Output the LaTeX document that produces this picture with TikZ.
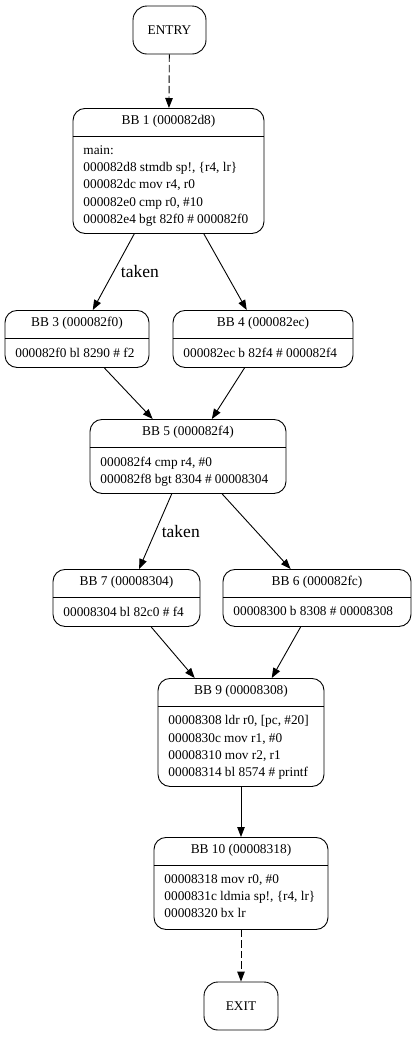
\documentclass[tikz,border=0pt]{standalone}
\usepackage{fontspec}
\setmainfont{Liberation Serif}
\usetikzlibrary{arrows.meta}
\tikzset{
 blk/.style={draw, line width=0.9pt, rounded corners=12pt, inner sep=0pt},
 hdr/.style={font=\fontsize{13.4}{16}\selectfont, inner sep=0pt},
 code/.style={font=\fontsize{13.3}{17.2}\selectfont, align=left, inner sep=0pt, anchor=north west},
 edgeln/.style={line width=0.9pt, -{Triangle[length=10pt,width=7.5pt]}},
 dedgeln/.style={edgeln, dash pattern=on 7.5pt off 3pt},
 lbl/.style={font=\fontsize{17.5}{20}\selectfont, inner sep=0pt, anchor=west},
}
\newcommand\mkblock[7]{%
 \node[blk, anchor=north, minimum width=#4pt, minimum height=#5pt] (#1) at (#2,#3) {};
 \draw[line width=0.9pt] ([yshift=-28pt]#1.north west) -- ([yshift=-28pt]#1.north east);
 \node[hdr] (#1h) at ([yshift=-13.5pt]#1.north) {#6};
 \node[code] (#1b) at ([xshift=10.7pt,yshift=-37.5pt]#1.north west) {#7};
}
\begin{document}
\begin{tikzpicture}[x=1pt,y=-1pt]
\fill[white] (0,0) rectangle (416,1037);
\useasboundingbox (0,0) rectangle (416,1037);
\node[blk, rounded corners=14pt, minimum width=73pt, minimum height=48pt, font=\fontsize{13.3}{16}\selectfont] (entry) at (169.5,30) {ENTRY};
\mkblock{bb1}{168.5}{108}{191}{125}{BB 1 (000082d8)}{main:\\000082d8 stmdb sp!, \{r4, lr\}\\000082dc mov r4, r0\\000082e0 cmp r0, \#10\\000082e4 bgt 82f0 \# 000082f0}
\mkblock{bb3}{77}{310}{144}{57}{BB 3 (000082f0)}{000082f0 bl 8290 \# f2}
\mkblock{bb4}{263}{310}{180}{57}{BB 4 (000082ec)}{000082ec b 82f4 \# 000082f4}
\mkblock{bb5}{188}{419}{196}{74}{BB 5 (000082f4)}{000082f4 cmp r4, \#0\\000082f8 bgt 8304 \# 00008304}
\mkblock{bb7}{126.5}{569}{147}{57}{BB 7 (00008304)}{00008304 bl 82c0 \# f4}
\mkblock{bb6}{317}{569}{188}{57}{BB 6 (000082fc)}{00008300 b 8308 \# 00008308}
\mkblock{bb9}{241}{678}{166}{108}{BB 9 (00008308)}{00008308 ldr r0, [pc, \#20]\\0000830c mov r1, \#0\\00008310 mov r2, r1\\00008314 bl 8574 \# printf}
\mkblock{bb10}{241}{837}{174}{92}{BB 10 (00008318)}{00008318 mov r0, \#0\\0000831c ldmia sp!, \{r4, lr\}\\00008320 bx lr}
\node[blk, rounded corners=14pt, minimum width=74pt, minimum height=48pt, font=\fontsize{13.3}{16}\selectfont] (exit) at (241,1006) {EXIT};
\draw[dedgeln] (entry) -- (bb1);
\draw[edgeln] (bb1) -- node[lbl, pos=0.5, xshift=7pt] (lbl1) {taken} (bb3);
\draw[edgeln] (bb1) -- (bb4);
\draw[edgeln] (bb3) -- (bb5);
\draw[edgeln] (bb4) -- (bb5);
\draw[edgeln] (bb5) -- node[lbl, pos=0.5, xshift=6pt] (lbl2) {taken} (bb7);
\draw[edgeln] (bb5) -- (bb6);
\draw[edgeln] (bb7) -- (bb9);
\draw[edgeln] (bb6) -- (bb9);
\draw[edgeln] (bb9) -- (bb10);
\draw[dedgeln] (bb10) -- (exit);
\end{tikzpicture}
\end{document}
